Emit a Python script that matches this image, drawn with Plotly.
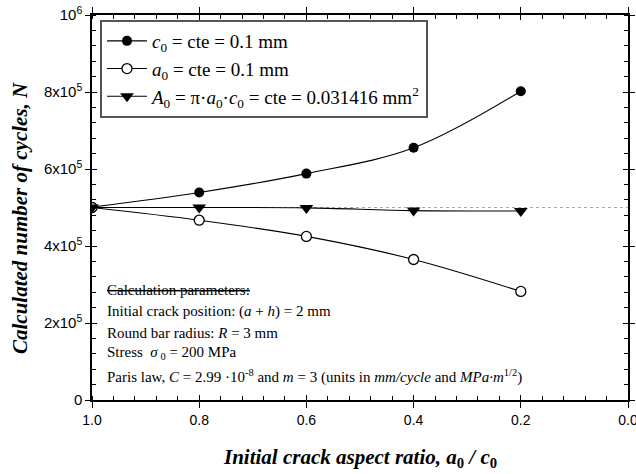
import plotly.graph_objects as go

ratio = [1.0, 0.8, 0.6, 0.4, 0.2]
n_c0_const = [5.01e5, 5.39e5, 5.88e5, 6.55e5, 8.02e5]
n_a0_const = [5.0e5, 4.67e5, 4.25e5, 3.65e5, 2.82e5]
n_area_const = [5.0e5, 5.0e5, 4.99e5, 4.92e5, 4.91e5]
ref_x = [1.0, 0.0]
ref_n = [5.0e5, 5.0e5]

y_tickvals = [0, 2e5, 4e5, 6e5, 8e5, 1e6]
y_ticktext = ["0", "2x10<sup>5</sup>", "4x10<sup>5</sup>", "6x10<sup>5</sup>", "8x10<sup>5</sup>", "10<sup>6</sup>"]
x_tickvals = [1.0, 0.8, 0.6, 0.4, 0.2, 0.0]
x_ticktext = ["1.0", "0.8", "0.6", "0.4", "0.2", "0.0"]

SERIF = "Liberation Serif"
SANS = "Liberation Sans"

L, R, T, B = 92, 8, 15, 74
W, H = 636, 474
PW, PH = W - L - R, H - T - B


def px_x(p):
    return (p - L) / PW


def px_y(p):
    return (H - B - p) / PH


fig = go.Figure()
fig.add_trace(go.Scatter(x=ref_x, y=ref_n, mode="lines", showlegend=False,
                         line=dict(color="#aaaaaa", width=1.2, dash="dot"), hoverinfo="skip"))
fig.add_trace(go.Scatter(x=ratio, y=n_c0_const, mode="lines+markers", line_shape="spline",
                         name="<i>c</i><sub>0</sub> = cte = 0.1 mm",
                         line=dict(color="black", width=1.1),
                         marker=dict(symbol="circle", size=10, color="black")))
fig.add_trace(go.Scatter(x=ratio, y=n_a0_const, mode="lines+markers", line_shape="spline",
                         name="<i>a</i><sub>0</sub> = cte = 0.1 mm",
                         line=dict(color="black", width=1.1),
                         marker=dict(symbol="circle", size=10, color="white",
                                     line=dict(color="black", width=1.3))))
fig.add_trace(go.Scatter(x=ratio, y=n_area_const, mode="lines+markers", line_shape="spline",
                         name="<i>A</i><sub>0</sub> = π·<i>a</i><sub>0</sub>·<i>c</i><sub>0</sub> = cte = 0.031416 mm<sup>2</sup>",
                         line=dict(color="black", width=1.1),
                         marker=dict(symbol="triangle-down", size=12, color="black")))
fig.add_trace(go.Scatter(x=[None], y=[None], xaxis="x2", yaxis="y2", showlegend=False, hoverinfo="skip"))

axis_common = dict(showgrid=False, zeroline=False, linecolor="black", linewidth=1.5,
                   tickcolor="black", tickwidth=1.3, automargin=False, ticklabeloverflow="allow")

fig.update_layout(
    width=W, height=H,
    margin=dict(l=L, r=R, t=T, b=B),
    paper_bgcolor="white", plot_bgcolor="white",
    font=dict(family=SERIF, color="black"),
    xaxis=dict(range=[1.0, 0.0], tickvals=x_tickvals, ticktext=x_ticktext,
               ticks="outside", ticklen=6, mirror="ticks", showline=True,
               minor=dict(dtick=0.04, ticks="inside", ticklen=4, tickcolor="black", tickwidth=1),
               tickfont=dict(family=SANS, size=14),
               **axis_common),
    yaxis=dict(range=[0, 1e6], tickvals=y_tickvals, ticktext=y_ticktext,
               ticks="outside", ticklen=5, mirror="ticks", showline=True,
               minor=dict(dtick=4e4, ticks="inside", ticklen=4, tickcolor="black", tickwidth=1),
               tickfont=dict(family=SANS, size=15),
               **axis_common),
    xaxis2=dict(range=[1.0, 0.0], overlaying="x", tickvals=x_tickvals, showticklabels=False,
                ticks="inside", ticklen=5, mirror="ticks", showline=False, showgrid=False,
                zeroline=False, tickcolor="black", tickwidth=1.3, automargin=False),
    yaxis2=dict(range=[0, 1e6], overlaying="y", tickvals=y_tickvals, showticklabels=False,
                ticks="inside", ticklen=5, mirror="ticks", showline=False, showgrid=False,
                zeroline=False, tickcolor="black", tickwidth=1.3, automargin=False),
    legend=dict(x=px_x(100), y=px_y(20), xanchor="left", yanchor="top",
                bgcolor="white", bordercolor="#555555", borderwidth=2,
                font=dict(family=SERIF, size=19), tracegroupgap=0, itemwidth=40),
    showlegend=True,
)

# axis titles
fig.add_annotation(text="<b><i>Initial crack aspect ratio, a</i><sub>0</sub><i> / c</i><sub>0</sub></b>",
                   xref="paper", yref="paper", x=px_x(360), y=px_y(458),
                   xanchor="center", yanchor="middle", showarrow=False,
                   font=dict(family=SERIF, size=21, color="black"))
fig.add_annotation(text="<b><i>Calculated number of cycles, N</i></b>",
                   xref="paper", yref="paper", x=px_x(20), y=px_y(218), textangle=-90,
                   xanchor="center", yanchor="middle", showarrow=False,
                   font=dict(family=SERIF, size=21, color="black"))

param_lines = [
    "<span style='text-decoration:line-through'>Calculation parameters:</span>",
    "Initial crack position: (<i>a</i> + <i>h</i>) = 2 mm",
    "Round bar radius: <i>R</i> = 3 mm",
    "Stress  <i>σ</i><sub> 0</sub> = 200 MPa",
    "Paris law, <i>C</i> = 2.99 ·10<sup>-8</sup> and <i>m</i> = 3 (units in <i>mm/cycle</i> and <i>MPa·m</i><sup>1/2</sup>)",
]
line_px = [290, 311, 332.5, 353, 376]
for txt, yp in zip(param_lines, line_px):
    fig.add_annotation(text=txt, xref="paper", yref="paper",
                       x=px_x(105), y=px_y(yp),
                       xanchor="left", yanchor="middle", showarrow=False,
                       font=dict(family=SERIF, size=15, color="black"))

fig.write_html("out.html", config={"displayModeBar": False},
               post_script="document.body.style.margin='0';document.body.style.overflow='hidden';")
